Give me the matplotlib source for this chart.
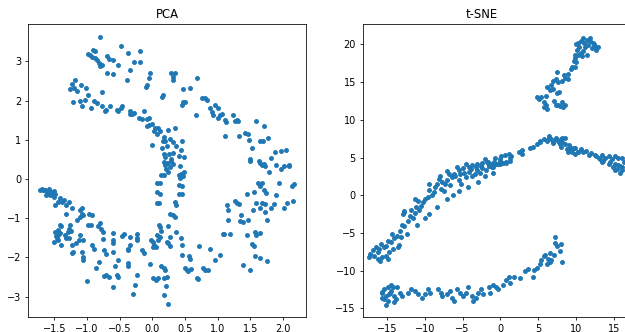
import numpy as np
import matplotlib
matplotlib.use("Agg")
import matplotlib.pyplot as plt

# 2-D embeddings of the same samples
pca_upper = [  # outer arc
    (-0.80, 3.61), (-0.91, 3.29), (-0.88, 3.25), (-0.98, 3.19), (-0.95, 3.16), (-0.93, 3.12),
    (-0.88, 3.08), (-0.85, 3.04), (-0.82, 2.95), (-0.80, 2.89), (-0.77, 2.91), (-0.70, 3.14),
    (-0.67, 3.05), (-0.60, 3.03), (-0.52, 2.91), (-0.69, 2.71), (-0.61, 2.68), (-0.48, 3.39),
    (-0.37, 3.22), (-0.29, 2.99), (-0.19, 3.27), (-0.19, 2.99), (-0.35, 2.78), (-0.39, 2.53),
    (-0.04, 2.71), (-0.06, 2.57), (-0.09, 2.40), (-0.10, 2.34), (0.16, 2.15), (0.15, 2.09),
    (0.28, 2.71), (0.35, 2.71), (0.32, 2.53), (0.31, 2.60), (0.47, 2.29), (0.46, 1.95),
    (0.45, 1.89), (0.50, 1.97), (0.58, 2.33), (0.68, 2.57), (0.67, 1.63), (0.76, 2.06),
    (0.80, 2.07), (0.84, 2.02), (0.88, 1.80), (0.96, 1.88), (1.01, 1.82), (0.93, 1.63),
    (0.91, 1.72), (1.01, 1.55), (1.03, 1.63), (1.11, 1.51), (1.12, 1.45), (1.07, 1.65),
    (1.23, 1.63), (1.29, 1.51), (1.26, 1.47), (1.31, 1.49), (1.11, 1.10), (1.33, 1.10),
    (1.42, 1.18), (1.46, 1.15), (1.47, 1.00), (1.52, 0.79), (1.50, 0.50), (1.59, 1.47),
    (1.70, 1.34), (1.65, 0.96), (1.69, 0.96), (1.77, 1.05), (1.63, 0.46), (1.71, 0.37),
    (1.81, 0.53), (1.87, 0.68), (1.96, 0.71), (2.04, 0.74), (1.89, 0.36), (2.02, 0.32),
    (2.09, 0.36),
]
pca_inner = [  # inner band bending down through the middle
    (-1.26, 2.29), (-1.18, 2.53), (-1.23, 2.42), (-1.21, 1.96), (-1.20, 2.31), (-1.15, 2.25),
    (-1.10, 2.40), (-1.11, 2.00), (-1.08, 1.86), (-1.03, 2.02), (-1.01, 2.31), (-0.99, 2.13),
    (-0.94, 1.80), (-0.90, 1.98), (-0.85, 1.93), (-0.77, 2.21), (-0.77, 1.87), (-0.71, 1.77),
    (-0.72, 1.73), (-0.65, 1.85), (-0.54, 1.77), (-0.52, 1.73), (-0.48, 1.80), (-0.47, 1.86),
    (-0.34, 1.73), (-0.32, 1.65), (-0.35, 1.65), (-0.29, 1.68), (-0.20, 1.56), (-0.16, 1.53),
    (-0.13, 1.73), (-0.09, 1.53), (-0.05, 1.56), (-0.09, 1.35), (-0.05, 1.37), (0.00, 1.39),
    (0.04, 1.31), (0.08, 1.31), (0.02, 1.23), (0.07, 1.15), (0.11, 1.23), (0.00, 0.87),
    (0.17, 1.06), (0.19, 0.98), (0.16, 0.98), (0.24, 1.25), (0.35, 1.31), (0.14, 0.79),
    (0.18, 0.64), (0.19, 0.57), (0.22, 0.83), (0.27, 1.02), (0.31, 0.94), (0.36, 0.83),
    (0.45, 0.98), (0.43, 0.74), (0.40, 0.58), (0.49, 0.57), (0.32, 0.67), (0.26, 0.64),
    (0.28, 0.50), (0.19, 0.40), (0.31, 0.37), (0.17, 0.44), (0.19, 0.36), (0.24, 0.40),
    (0.27, 0.30), (0.20, 0.25), (0.24, 0.19), (0.29, 0.47), (0.42, 0.33), (0.13, 0.10),
    (0.17, 0.10), (0.40, 0.10), (0.43, 0.12), (0.46, 0.07), (0.48, 0.18), (0.42, 0.02),
    (0.40, -0.15), (0.45, -0.19), (0.40, -0.37), (0.45, -0.38), (0.07, -0.11), (0.11, -0.11),
    (0.07, -0.32), (0.12, -0.37), (0.07, -0.62), (0.10, -0.62), (0.35, -0.58), (0.36, -0.66),
    (0.32, -0.92), (0.35, -0.96), (0.27, -0.88), (0.10, -1.17), (0.11, -1.23), (0.13, -1.32),
    (0.07, -1.43), (0.11, -1.47), (0.24, -1.21), (0.27, -1.47), (0.43, -1.51), (0.36, -1.34),
    (0.45, -1.68),
]
pca_lower = [  # lower arc and right-hand spread
    (-0.02, -1.56), (0.01, -1.60), (0.03, -1.68), (0.05, -1.74), (0.01, -1.74), (0.08, -1.56),
    (0.22, -1.60), (0.24, -1.64), (0.27, -1.71), (0.45, -1.94), (-0.04, -2.17), (0.13, -2.22),
    (0.17, -2.26), (0.19, -2.33), (0.18, -2.53), (0.22, -2.49), (0.21, -2.73), (0.17, -2.96),
    (0.24, -3.19), (0.01, -2.53), (0.05, -2.57), (0.08, -2.53), (-0.23, -1.39), (-0.24, -1.51),
    (-0.23, -1.56), (-0.16, -1.81), (-0.13, -1.89), (-0.24, -2.45), (-0.27, -2.70), (-0.30, -2.92),
    (-0.34, -1.47), (-0.43, -1.41), (-0.47, -1.46), (-0.35, -1.68), (-0.37, -1.78), (-0.38, -1.82),
    (-0.37, -2.15), (-0.38, -2.22), (-0.53, -2.07), (-0.57, -2.22), (-0.54, -2.45), (-0.52, -2.51),
    (-0.60, -2.76), (-0.60, -1.37), (-0.61, -1.56), (-0.60, -1.64), (-0.61, -1.86), (-0.71, -1.90),
    (-0.74, -1.82), (-0.76, -1.53), (-0.75, -1.35), (-0.78, -1.27), (-0.81, -1.13), (-0.84, -1.21),
    (-0.71, -2.45), (-0.67, -2.49), (-0.74, -2.47), (-0.82, -2.11), (-0.86, -2.28), (-0.89, -1.79),
    (-0.92, -1.68), (-0.94, -1.17), (-0.98, -1.17), (-1.00, -2.61), (-1.06, -2.06), (-1.07, -1.98),
    (-1.08, -1.86), (-1.06, -1.56), (-1.11, -1.43), (-1.13, -1.56), (-1.23, -1.68), (-1.21, -1.85),
    (-1.23, -1.89), (-1.17, -1.62), (-1.08, -0.88), (-1.06, -0.92), (-0.97, -0.90), (-0.93, -0.92),
    (-1.16, -1.05), (-1.11, -0.96), (-1.11, -0.79), (-1.08, -0.75), (-1.23, -0.75), (-1.26, -1.17),
    (-1.28, -1.28), (-1.24, -1.32), (-1.30, -1.34), (-1.34, -1.43), (-1.32, -1.51), (-1.28, -1.51),
    (-1.28, -0.58), (-1.32, -0.66), (-1.32, -0.88), (-1.40, -1.68), (-1.49, -1.35), (-1.45, -1.43),
    (-1.42, -1.17), (-1.40, -1.21), (-1.44, -1.30), (-1.46, -1.51), (-1.44, -1.56), (-1.50, -1.60),
    (-1.47, -1.45), (-1.41, -1.37), (-1.49, -0.66), (-1.42, -0.49), (-1.39, -0.58), (-1.44, -0.58),
    (-1.36, -0.53), (-1.69, -0.26), (-1.64, -0.28), (-1.62, -0.32), (-1.58, -0.30), (-1.54, -0.32),
    (-1.51, -0.30), (-1.61, -0.37), (-1.57, -0.41), (-1.52, -0.41), (-1.63, -0.41), (-1.59, -0.26),
    (-1.49, -0.37), (-1.67, -0.28), (-1.55, -0.35), (-1.50, -0.45), (-1.72, -0.27),
    (1.14, -0.66), (1.16, -0.79), (1.15, -1.05), (1.19, -1.41), (1.08, -1.41), (1.26, -0.56),
    (1.30, -0.60), (1.33, -0.63), (1.35, -0.93), (1.34, -1.06), (1.38, -1.10), (1.46, -1.04),
    (1.45, -1.43), (1.45, -0.38), (1.50, 0.47), (1.62, -0.11), (1.65, -0.19), (1.67, -0.11),
    (1.70, -0.29), (1.74, -0.35), (1.79, 0.19), (1.64, 0.40), (1.67, 0.36), (1.73, 0.33),
    (1.55, -0.33), (1.59, -0.62), (1.67, -0.62), (1.73, -0.64), (1.64, -0.75), (1.54, -0.79),
    (1.57, -1.35), (1.59, -1.43), (1.64, -1.37), (1.73, -0.85), (1.75, -1.05), (1.81, -0.73),
    (1.86, -0.63), (1.89, -0.40), (1.93, -0.09), (1.96, 0.25), (2.02, -0.73), (2.06, -0.62),
    (2.14, -0.19), (2.17, -0.13), (2.09, 0.33), (2.15, -0.56), (1.50, -2.32), (1.38, -2.19),
    (1.57, -1.96), (1.65, -2.02), (1.75, -2.08), (1.52, -1.66), (1.55, -1.71),
    (0.56, -1.97), (0.57, -2.04), (0.50, -2.27), (0.53, -2.31), (0.55, -2.35), (0.59, -2.29),
    (0.68, -2.53), (0.70, -2.55), (0.78, -2.27), (0.80, -2.33), (0.85, -2.33), (0.71, -1.71),
    (0.88, -1.79), (0.96, -2.07), (1.04, -1.94), (1.09, -1.41),
]

tsne_top = [
    (10.9, 20.8), (11.4, 20.6), (11.9, 20.5), (12.3, 20.2), (12.6, 19.7), (12.7, 19.3),
    (12.1, 19.5), (11.6, 19.9), (11.1, 20.2), (10.6, 20.4), (10.3, 20.2), (10.4, 19.7),
    (10.1, 19.3), (10.9, 19.1), (11.4, 18.6), (10.8, 18.4), (10.3, 18.6), (9.9, 18.2),
    (9.7, 17.8), (10.0, 17.6), (9.5, 17.0), (9.3, 16.8), (9.8, 17.0), (8.9, 16.1),
    (8.4, 15.9), (8.6, 15.5), (8.9, 15.4), (8.2, 15.2), (7.5, 16.3), (7.3, 15.4),
    (7.0, 15.2), (7.6, 15.0), (6.7, 14.6), (6.2, 14.4), (6.5, 13.9), (6.9, 14.1),
    (7.5, 13.5), (7.7, 13.7), (6.0, 13.2), (5.4, 13.0), (4.8, 13.0), (5.1, 12.7),
    (5.8, 12.4), (6.0, 11.9), (5.7, 11.7), (6.1, 11.5), (7.3, 11.9), (7.6, 12.0),
    (8.2, 12.4), (8.5, 12.0), (8.3, 11.7), (7.9, 11.8), (7.1, 12.5), (11.8, 20.9),
    (12.4, 20.0), (11.2, 19.6), (10.6, 18.9), (9.8, 18.6), (12.9, 19.6), (10.0, 20.0),
]
tsne_mid = [
    (6.4, 7.8), (6.7, 7.4), (6.9, 7.0), (6.2, 7.2), (7.4, 7.6), (7.6, 7.2), (8.0, 7.4),
    (8.2, 7.0), (8.5, 7.6), (8.6, 6.8), (7.9, 6.8), (8.8, 6.1), (9.3, 6.3), (9.7, 6.2),
    (10.2, 5.8), (10.6, 6.1), (10.9, 5.7), (11.3, 5.9), (11.7, 5.4), (12.0, 5.6), (12.5, 5.4),
    (12.7, 5.2), (13.0, 5.0), (13.4, 5.3), (13.8, 5.0), (14.3, 5.2), (14.7, 4.8), (15.2, 5.2),
    (15.6, 5.0), (16.1, 5.0), (13.6, 4.6), (14.5, 4.4), (15.2, 4.2), (15.6, 4.0), (16.1, 3.8),
    (16.3, 4.4), (13.1, 4.8), (8.9, 5.7), (9.5, 5.7), (9.9, 5.5), (5.2, 7.1), (4.8, 6.8),
    (4.3, 6.4), (3.9, 6.2), (2.9, 6.0), (2.5, 5.8), (1.2, 5.5), (1.4, 5.2), (0.6, 5.4),
    (0.1, 5.2), (-0.1, 4.8), (-0.7, 5.0), (-0.9, 4.4), (-1.3, 4.2), (-1.5, 3.9), (-1.7, 4.4),
    (-1.1, 3.7), (-0.6, 4.2), (5.3, 7.2), (5.8, 7.5), (6.4, 7.6), (7.3, 7.4), (7.8, 7.1),
    (8.2, 7.6), (7.0, 6.9), (8.0, 6.4), (9.1, 6.6), (9.3, 6.0), (9.8, 6.2), (10.2, 5.8),
    (13.4, 4.4), (14.3, 4.1), (14.9, 3.7), (15.4, 3.5), (15.8, 3.9), (16.1, 3.4), (15.2, 3.3),
    (15.8, 3.0),
    # lower-left part of the long diagonal arm
    (-3.9, 3.5), (-3.2, 3.7), (-2.5, 3.9), (-1.6, 4.3), (-1.4, 3.9), (-0.9, 4.1), (-0.1, 4.2),
    (0.7, 4.3), (1.3, 5.0), (2.8, 5.5), (0.8, 4.4), (-0.3, 4.2), (-1.0, 3.7), (-1.5, 3.9),
    (-1.9, 3.4), (-2.4, 3.6), (-2.7, 3.0), (-3.1, 3.4), (-3.4, 2.8), (-3.8, 2.6), (-4.2, 3.1),
    (-4.5, 2.4), (-4.8, 3.0), (-5.3, 2.8), (-5.2, 1.5), (-5.5, 2.0), (-6.0, 2.5), (-6.4, 2.4),
    (-6.8, 2.8), (-7.0, 2.0), (-7.3, 1.5), (-6.7, 1.3), (-7.7, 1.7), (-7.9, 0.8), (-7.5, 0.6),
    (-8.1, 2.2), (-8.4, 1.5), (-8.7, 1.1), (-8.8, 0.4), (-9.1, 0.1), (-9.4, 0.7), (-9.6, -0.2),
    (-10.0, -0.5), (-10.2, -0.9), (-10.5, -1.4), (-10.9, -0.7), (-11.3, -0.5), (-11.1, -1.6),
    (-10.8, -2.0), (-11.3, -2.3), (-11.8, -1.9), (-11.5, -3.0), (-12.0, -2.8), (-12.2, -3.4),
    (-12.7, -2.1), (-12.9, -2.5), (-13.0, -3.9), (-12.7, -4.1), (-13.3, -4.8), (-13.6, -5.4),
    (-13.1, -5.5), (-14.0, -5.7), (-14.3, -5.2), (-14.5, -6.2), (-14.9, -6.0), (-15.1, -6.7),
    (-15.4, -6.9), (-15.8, -6.5), (-16.0, -7.1), (-16.2, -7.5), (-16.5, -6.9), (-16.9, -7.3),
    (-17.2, -7.8), (-17.3, -8.2), (-16.7, -8.0), (-16.2, -8.5), (-15.9, -8.7), (-15.6, -8.2),
    (-15.1, -8.0), (-14.9, -8.5), (-14.7, -7.5), (-14.2, -7.1), (-13.4, -6.6),
    (-5.5, 3.4), (-5.0, 3.6), (-4.2, 3.8), (-3.7, 4.0), (-3.1, 4.2), (-2.4, 4.3), (-1.8, 4.4),
    (0.0, 4.6), (0.4, 4.3), (1.3, 4.5), (-6.1, 2.8),
    # outer edges of the arm
    (-12.3, -5.1), (-11.0, -4.0), (-10.0, -3.0), (-9.5, -2.5), (-8.4, -1.6), (-7.0, -0.5),
    (-5.5, 0.5), (-4.3, 1.1), (-3.0, 1.8), (-13.5, -6.8), (-9.5, 1.5), (-8.0, 2.6),
    (-7.0, 3.2), (-5.8, 3.8), (-4.5, 4.2), (-2.0, 4.8), (-12.8, -2.2), (-6.2, 0.0),
    (-2.0, 2.5), (-1.0, 3.0),
]
tsne_low = [
    (-15.1, -14.5), (-15.6, -12.8), (-15.4, -12.4), (-14.9, -12.2), (-14.5, -11.9), (-14.4, -12.7),
    (-14.7, -13.1), (-15.1, -13.3), (-15.6, -13.6), (-14.0, -13.3), (-13.8, -13.8), (-14.1, -14.2),
    (-13.6, -12.2), (-13.3, -12.9), (-13.0, -13.3), (-12.2, -12.9), (-11.8, -12.4), (-11.3, -12.7),
    (-10.9, -13.1), (-10.4, -13.6), (-10.0, -13.1), (-9.6, -12.4), (-9.3, -12.9), (-8.3, -12.4),
    (-7.9, -12.9), (-7.7, -13.3), (-7.0, -13.1), (-6.7, -12.7), (-6.4, -13.6), (-6.1, -14.0),
    (-5.7, -12.4), (-5.4, -12.9), (-5.0, -13.3), (-4.6, -12.9), (-4.3, -12.2), (-3.8, -13.3),
    (-3.6, -14.0), (-3.2, -13.6), (-2.9, -12.9), (-2.6, -12.4), (-2.3, -13.1), (-1.5, -12.2),
    (-1.4, -12.9), (-1.0, -11.9), (-0.6, -12.2), (-0.3, -12.4), (0.4, -11.9), (0.8, -11.2),
    (1.1, -10.9), (1.3, -11.6), (1.8, -10.8), (2.6, -11.0), (3.3, -10.1), (3.6, -9.8),
    (4.3, -10.9), (4.5, -9.9), (4.9, -9.6), (5.2, -9.1), (5.4, -8.6), (5.7, -8.1), (5.9, -7.9),
    (6.3, -8.4), (6.5, -8.9), (6.1, -9.1), (6.7, -8.6), (7.1, -7.9), (6.6, -7.6), (7.2, -6.3),
    (7.5, -6.7), (8.0, -6.5), (7.9, -7.4), (8.1, -8.8), (7.2, -5.5), (-15.7, -13.0),
    (-15.4, -13.8), (-14.9, -14.0), (-14.6, -12.9), (-14.2, -12.2),
]

pca = np.array(pca_upper + pca_inner + pca_lower)
tsne = np.array(tsne_top + tsne_mid + tsne_low)

fig = plt.figure(figsize=(625 / 70, 332 / 70), dpi=70)
ax1 = fig.add_axes([0.0453, 0.046, 0.4443, 0.8817])
ax2 = fig.add_axes([0.5803, 0.046, 0.4443, 0.8817])

ax1.scatter(pca[:, 0], pca[:, 1], s=16)
ax1.set_title("PCA")
ax1.set_xlim(-1.90, 2.35)
ax1.set_ylim(-3.51, 3.95)
ax1.set_xticks([-1.5, -1.0, -0.5, 0.0, 0.5, 1.0, 1.5, 2.0])

ax2.scatter(tsne[:, 0], tsne[:, 1], s=16)
ax2.set_title("t-SNE", x=0.43)
ax2.set_xlim(-18.2, 18.5)
ax2.set_ylim(-16.1, 22.7)
ax2.set_xticks([-15, -10, -5, 0, 5, 10, 15])

fig.savefig("out.png", dpi=70)
